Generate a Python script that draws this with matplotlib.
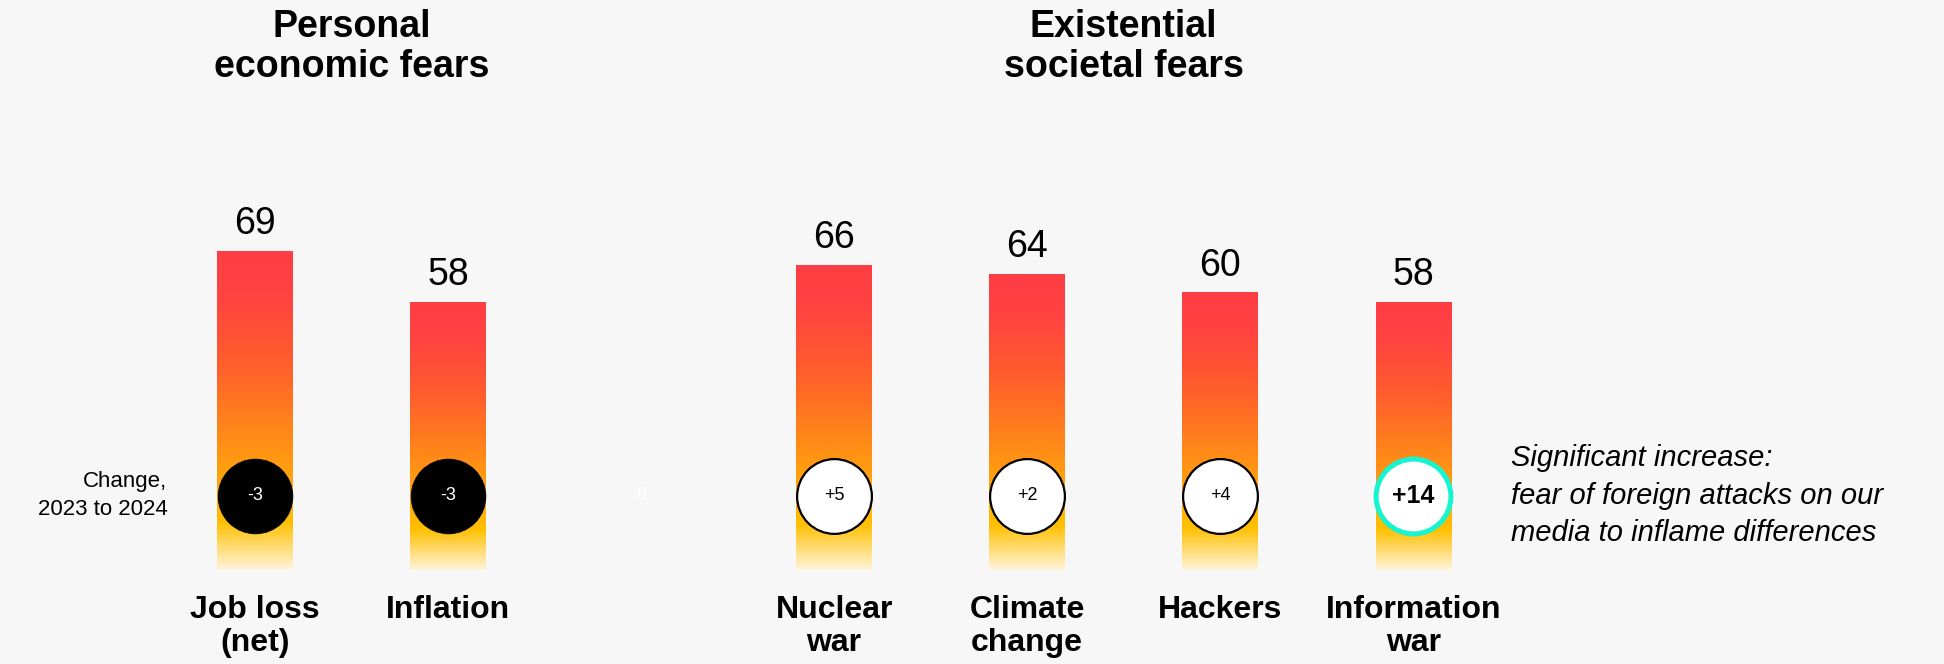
import matplotlib
matplotlib.use("Agg")
import matplotlib.pyplot as plt
import numpy as np
from matplotlib.colors import LinearSegmentedColormap

plt.rcParams['font.family'] = ['Liberation Sans', 'DejaVu Sans']

# data
categories = ['Job loss\n(net)', 'Inflation', '', 'Nuclear\nwar', 'Climate\nchange', 'Hackers', 'Information\nwar']
values = [69, 58, 0, 66, 64, 60, 58]
changes = [-3, -3, 0, 5, 2, 4, 14]
significant = [False, False, False, False, False, False, True]
group_titles = ['Personal\neconomic fears', 'Existential\nsocietal fears']
group_members = [[0, 1], [3, 4, 5, 6]]
change_label = 'Change,\n2023 to 2024'
note = 'Significant increase:\nfear of foreign attacks on our\nmedia to inflame differences'

bg = '#F7F7F7'
circle_y = 16
bar_w = 0.39

cmap = LinearSegmentedColormap.from_list('fear', [
    (0.0, '#FFF4DA'), (0.15, '#FFC000'), (0.42, '#FF8A18'),
    (0.65, '#FF5E2C'), (0.85, '#FF4440'), (1.0, '#FF3D45')])

fig = plt.figure(figsize=(19.44, 6.64), dpi=100, facecolor=bg)
ax = fig.add_axes([0, 0, 1, 1])
ax.set_facecolor(bg)
ax.axis('off')

x = np.arange(len(categories))
bars = ax.bar(x, values, width=bar_w, color='none', edgecolor='none')

# gradient fill clipped to each bar
grad = np.linspace(0, 1, 256).reshape(-1, 1)
for bar, v in zip(bars, values):
    if v <= 0:
        continue
    im = ax.imshow(grad, cmap=cmap, origin='lower', aspect='auto',
                   extent=[bar.get_x(), bar.get_x() + bar.get_width(), 0, v], zorder=1)
    im.set_clip_path(bar)
    ax.annotate(f'{v}', (bar.get_x() + bar.get_width() / 2, v), xytext=(0, 12),
                textcoords='offset points', ha='center', va='baseline', fontsize=27)

# change circles
for xi, c, sig in zip(x, changes, significant):
    if c == 0:
        ax.text(xi, circle_y, '0', color='white', ha='center', va='center', fontsize=13, zorder=4)
        continue
    if c < 0:
        ax.scatter(xi, circle_y, s=2900, color='black', edgecolors='black', linewidths=0.5, zorder=3)
        ax.text(xi, circle_y, f'{c}', color='white', ha='center', va='center', fontsize=13, zorder=4)
    elif sig:
        ax.scatter(xi, circle_y, s=2900, color='white', edgecolors='#16F5D0', linewidths=3.6, zorder=3)
        ax.text(xi, circle_y, f'+{c}', color='black', ha='center', va='center', fontsize=18,
                fontweight='bold', zorder=4)
    else:
        ax.scatter(xi, circle_y, s=2900, color='white', edgecolors='black', linewidths=1.6, zorder=3)
        ax.text(xi, circle_y, f'+{c}', color='black', ha='center', va='center', fontsize=13, zorder=4)

# category labels
for xi, lab in zip(x, categories):
    ax.annotate(lab, (xi, 0), xytext=(0, -18), textcoords='offset points', ha='center',
                va='top', fontsize=23, fontweight='bold', linespacing=1.15)

# group titles
for title, members in zip(group_titles, group_members):
    ax.text(np.mean(members), 0.987, title, transform=ax.get_xaxis_transform(), ha='center',
            va='top', fontsize=27, fontweight='bold', linespacing=1.15)

ax.annotate(change_label, (x[0] - bar_w / 2, circle_y), xytext=(-36, 0), textcoords='offset points',
            ha='right', va='center', fontsize=16, linespacing=1.45)
ax.annotate(note, (x[-1] + bar_w / 2, circle_y), xytext=(43, 0), textcoords='offset points',
            ha='left', va='center', fontsize=21, style='italic', linespacing=1.43)

ax.set_xlim(-1.321, 8.75)
ax.set_ylim(-20.45, 123.3)

fig.savefig('out.png', dpi=100, facecolor=bg)
